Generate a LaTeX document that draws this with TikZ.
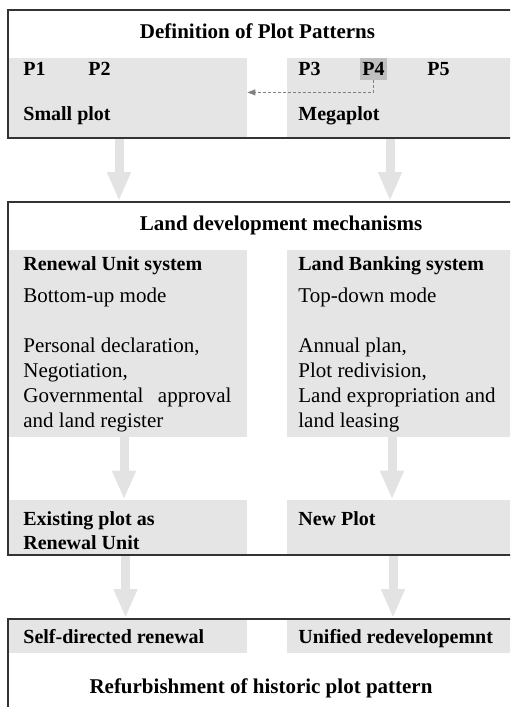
\documentclass[tikz,border=0pt]{standalone}
\usepackage{fontspec}
\setmainfont{Liberation Serif}
\usetikzlibrary{positioning, arrows.meta, calc}

\begin{document}
\begin{tikzpicture}[x=0.5pt, y=-0.5pt, font=\fontsize{10.5pt}{12.5pt}\selectfont]

\tikzset{
  frame/.style={draw=black!80, line width=1pt, minimum width=253pt, inner sep=0pt},
  panel/.style={fill=gray!20, inner sep=0pt},
  lbl/.style={anchor=base west, inner sep=0pt},
  ttl/.style={anchor=base, inner sep=0pt, font=\fontsize{10.5pt}{12.5pt}\selectfont\bfseries},
  bigarrow/.style={draw=gray!22, line width=4.5pt, -{Triangle[width=11pt, length=14.5pt]}},
  dasharrow/.style={draw=gray, line width=0.5pt, dash pattern=on 1.5pt off 1pt, -{Triangle[width=3pt, length=4pt]}},
}

\path[use as bounding box] (0,0) rectangle (510,707);
\clip (0,0) rectangle (510,707);

% Definition of plot patterns
\node[panel, minimum width=119.5pt, minimum height=40pt] (smallp) at (127.5,98) {};
\node[panel, minimum width=113.5pt, minimum height=40pt] (megap) at (400.5,98) {};
\node[ttl] (deftitle) at (257.5,38) {Definition of Plot Patterns};
\node[lbl, font=\bfseries] (p1) at (23,75) {P1};
\node[lbl, font=\bfseries] (p2) at (88,75) {P2};
\node[lbl, font=\bfseries] (p3) at (298,75) {P3};
\node[fill=gray!50, inner sep=0pt, minimum width=13.5pt, minimum height=11pt, font=\bfseries] (p4) at (373.5,69) {P4};
\node[lbl, font=\bfseries] (p5) at (427,75) {P5};
\node[lbl, font=\bfseries] (smalltxt) at (23,120) {Small plot};
\node[lbl, font=\bfseries] (megatxt) at (298,120) {Megaplot};
\node[frame, minimum height=64pt] (defbox) at (261,74) {};

% Land development mechanisms
\node[panel, minimum width=119.5pt, minimum height=93.5pt] (rusys) at (127.5,343.5) {};
\node[panel, minimum width=113.5pt, minimum height=93.5pt] (lbsys) at (400.5,343.5) {};
\node[panel, minimum width=119.5pt, minimum height=27.5pt] (existp) at (127.5,527.5) {};
\node[panel, minimum width=113.5pt, minimum height=27.5pt] (newp) at (400.5,527.5) {};
\node[ttl] (devtitle) at (281,230) {Land development mechanisms};
\node[lbl, font=\bfseries] (rutitle) at (23,270) {Renewal Unit system};
\node[lbl] (rumode) at (23,302) {Bottom-up mode};
\node[lbl] (rusteps) at (23,352) {\parbox[t]{115pt}{Personal declaration,\\Negotiation,\\\makebox[104pt][s]{Governmental approval}\\and land register}};
\node[lbl, font=\bfseries] (lbtitle) at (298,270) {Land Banking system};
\node[lbl] (lbmode) at (298,302) {Top-down mode};
\node[lbl] (lbsteps) at (298,352) {\parbox[t]{110pt}{Annual plan,\\Plot redivision,\\Land expropriation and\\land leasing}};
\node[lbl, font=\bfseries] (existtxt) at (23,525) {\parbox[t]{110pt}{Existing plot as\\Renewal Unit}};
\node[lbl, font=\bfseries] (newtxt) at (298,525) {New Plot};
\node[frame, minimum height=176.5pt] (devbox) at (261,378.5) {};

% Refurbishment
\node[panel, minimum width=119.5pt, minimum height=17pt] (selfp) at (127.5,636) {};
\node[panel, minimum width=113.5pt, minimum height=17pt] (unip) at (400.5,636) {};
\node[lbl, font=\bfseries] (selftxt) at (23,643) {Self-directed renewal};
\node[lbl, font=\bfseries] (unitxt) at (298,643) {Unified redevelopemnt};
\node[ttl] (reftitle) at (261,693) {Refurbishment of historic plot pattern};
\node[frame, minimum height=50.5pt] (refbox) at (261,669.5) {};

% arrows
\draw[dasharrow] (p4.south) -- ++(0,12) coordinate (bend) -- (bend -| smallp.east);
\draw[bigarrow, shorten <=0.5pt] ([xshift=-4.25pt]smallp.south) -- ([xshift=-4.25pt]smallp.south |- devbox.north);
\draw[bigarrow, shorten <=0.5pt] ([xshift=-5.25pt]megap.south) -- ([xshift=-5.25pt]megap.south |- devbox.north);
\draw[bigarrow] ([xshift=-1.75pt]rusys.south) -- ([xshift=-1.75pt]existp.north);
\draw[bigarrow] ([xshift=-4.25pt]lbsys.south) -- ([xshift=-4.25pt]newp.north);
\draw[bigarrow, shorten <=0.5pt] ([xshift=-1pt]existp.south) -- ([xshift=-1pt]existp.south |- refbox.north);
\draw[bigarrow, shorten <=0.5pt] ([xshift=-3.75pt]newp.south) -- ([xshift=-3.75pt]newp.south |- refbox.north);

\end{tikzpicture}
\end{document}
